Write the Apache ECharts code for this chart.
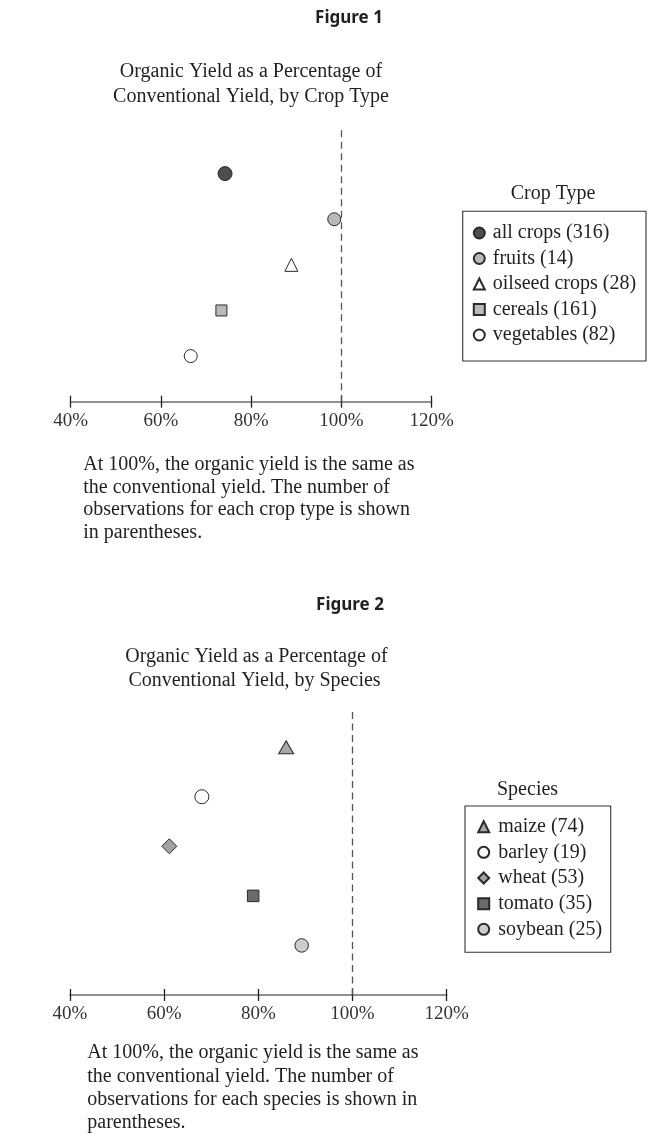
<!DOCTYPE html>
<html>
<head>
<meta charset="utf-8">
<script src="https://cdn.jsdelivr.net/npm/echarts@6/dist/echarts.min.js"></script>
<style>
html,body{margin:0;padding:0;background:#fff;}
#chart{width:662px;height:1144px;}
</style>
</head>
<body>
<div id="chart"></div>
<script>
// ---- Data ----
const cropTypes = ['all crops', 'fruits', 'oilseed crops', 'cereals', 'vegetables'];
const cropCounts = [316, 14, 28, 161, 82];
const cropYield = [74.2, 98.4, 88.9, 73.4, 66.6];

const species = ['maize', 'barley', 'wheat', 'tomato', 'soybean'];
const speciesCounts = [74, 19, 53, 35, 25];
const speciesYield = [85.9, 68.0, 61.1, 78.9, 89.2];

const xMin = 40, xMax = 120, xStep = 20;
const referenceLine = 100;

// ---- Styles ----
const cropSymbols = ['circle', 'circle', 'triangle', 'rect', 'circle'];
const cropSizes = [14, 13, 13, 11, 13];
const cropFills = ['#4d4d4d', '#b9b9b9', '#ffffff', '#b9b9b9', '#ffffff'];
const speciesSymbols = ['triangle', 'circle', 'diamond', 'rect', 'circle'];
const speciesSizes = [[15, 13], 14, 15, 11.5, 13.5];
const speciesFills = ['#a9a9a9', '#ffffff', '#a3a3a3', '#6b6b6b', '#cdcdcd'];

const SERIF = '"Liberation Serif", "DejaVu Serif", serif';
const TXT = '#231f20';

const chart = echarts.init(document.getElementById('chart'), null, {renderer: 'canvas'});

function makeXAxes(gridIndex) {
  const base = {
    type: 'value', gridIndex: gridIndex, position: 'bottom',
    min: xMin, max: xMax, interval: xStep,
    splitLine: {show: false}
  };
  return [
    Object.assign({}, base, {
      axisLine: {show: true, lineStyle: {color: '#6e6e6e', width: 1.6}},
      axisTick: {show: true, inside: false, length: 6, lineStyle: {color: '#231f20', width: 1.3}},
      axisLabel: {show: true, formatter: '{value}%', fontFamily: SERIF, fontSize: 19, color: '#333', margin: 10}
    }),
    Object.assign({}, base, {
      axisLine: {show: false},
      axisTick: {show: true, inside: true, length: 6, lineStyle: {color: '#231f20', width: 1.3}},
      axisLabel: {show: false}
    })
  ];
}

function makeSeries(names, counts, values, symbols, sizes, fills, xAxisIndex, yAxisIndex) {
  return names.map((n, i) => {
    const s = {
      type: 'scatter',
      name: n + ' (' + counts[i] + ')',
      xAxisIndex: xAxisIndex, yAxisIndex: yAxisIndex,
      symbol: symbols[i], symbolSize: sizes[i],
      itemStyle: {color: fills[i], borderColor: '#2a2a2a', borderWidth: 1, opacity: 1},
      emphasis: {disabled: true},
      data: [[values[i], names.length - i]],
      z: 3
    };
    if (i === 0) {
      s.markLine = {
        silent: true, symbol: 'none', label: {show: false},
        lineStyle: {type: [7, 4.5], color: '#555', width: 1.3},
        data: [{xAxis: referenceLine}],
        z: 1
      };
    }
    return s;
  });
}

const series = []
  .concat(makeSeries(cropTypes, cropCounts, cropYield, cropSymbols, cropSizes, cropFills, 0, 0))
  .concat(makeSeries(species, speciesCounts, speciesYield, speciesSymbols, speciesSizes, speciesFills, 2, 1));

const legendText = {fontFamily: SERIF, fontSize: 20, color: TXT, lineHeight: 20, padding: [0, 0, 0, 3]};

const option = {
  animation: false,
  backgroundColor: '#ffffff',
  grid: [
    {left: 70.7, right: 662 - 431.7, top: 128, bottom: 1144 - 401.7},
    {left: 70, right: 662 - 446.7, top: 710, bottom: 1144 - 995}
  ],
  xAxis: makeXAxes(0).concat(makeXAxes(1)),
  yAxis: [
    {type: 'value', gridIndex: 0, min: 0, max: 6, show: false},
    {type: 'value', gridIndex: 1, min: 0, max: 5.75, show: false}
  ],
  legend: [
    {
      data: cropTypes.map((n, i) => n + ' (' + cropCounts[i] + ')'),
      orient: 'vertical', left: 472.8, top: 223, padding: 0,
      itemWidth: 11, itemHeight: 11, itemGap: 5.5, symbolKeepAspect: true,
      selectedMode: false, textStyle: legendText
    },
    {
      data: species.map((n, i) => n + ' (' + speciesCounts[i] + ')'),
      orient: 'vertical', left: 477.2, top: 816.7, padding: 0,
      itemWidth: 11, itemHeight: 11, itemGap: 5.65, symbolKeepAspect: true,
      selectedMode: false, textStyle: Object.assign({}, legendText, {padding: [0, 0, 0, 4]})
    }
  ],
  graphic: [
    {type: 'text', x: 349, y: 18, style: {text: 'Figure 1', font: 'bold 17px "Noto Sans"', fill: TXT, align: 'center', verticalAlign: 'middle'}},
    {type: 'text', x: 251, y: 71.7, style: {text: 'Organic Yield as a Percentage of', font: '20px ' + SERIF, fill: TXT, align: 'center', verticalAlign: 'middle'}},
    {type: 'text', x: 251, y: 96.7, style: {text: 'Conventional Yield, by Crop Type', font: '20px ' + SERIF, fill: TXT, align: 'center', verticalAlign: 'middle'}},
    {type: 'text', x: 553, y: 193.3, style: {text: 'Crop Type', font: '20px ' + SERIF, fill: TXT, align: 'center', verticalAlign: 'middle'}},
    {type: 'rect', shape: {x: 462.7, y: 211.2, width: 183.3, height: 149.8}, style: {fill: 'none', stroke: '#333', lineWidth: 1.1}},
    {type: 'text', x: 83.3, y: 453.5, style: {text: 'At 100%, the organic yield is the same as\nthe conventional yield. The number of\nobservations for each crop type is shown\nin parentheses.', font: '20px ' + SERIF, lineHeight: 22.6, fill: TXT, align: 'left', verticalAlign: 'top'}},

    {type: 'text', x: 350, y: 605, style: {text: 'Figure 2', font: 'bold 17px "Noto Sans"', fill: TXT, align: 'center', verticalAlign: 'middle'}},
    {type: 'text', x: 256.5, y: 656.7, style: {text: 'Organic Yield as a Percentage of', font: '20px ' + SERIF, fill: TXT, align: 'center', verticalAlign: 'middle'}},
    {type: 'text', x: 254.5, y: 680.7, style: {text: 'Conventional Yield, by Species', font: '20px ' + SERIF, fill: TXT, align: 'center', verticalAlign: 'middle'}},
    {type: 'text', x: 497, y: 790, style: {text: 'Species', font: '20px ' + SERIF, fill: TXT, align: 'left', verticalAlign: 'middle'}},
    {type: 'rect', shape: {x: 465, y: 806, width: 145.7, height: 146.3}, style: {fill: 'none', stroke: '#333', lineWidth: 1.1}},
    {type: 'text', x: 87.3, y: 1041.5, style: {text: 'At 100%, the organic yield is the same as\nthe conventional yield. The number of\nobservations for each species is shown in\nparentheses.', font: '20px ' + SERIF, lineHeight: 23.2, fill: TXT, align: 'left', verticalAlign: 'top'}}
  ],
  series: series
};

chart.setOption(option);
</script>
</body>
</html>
